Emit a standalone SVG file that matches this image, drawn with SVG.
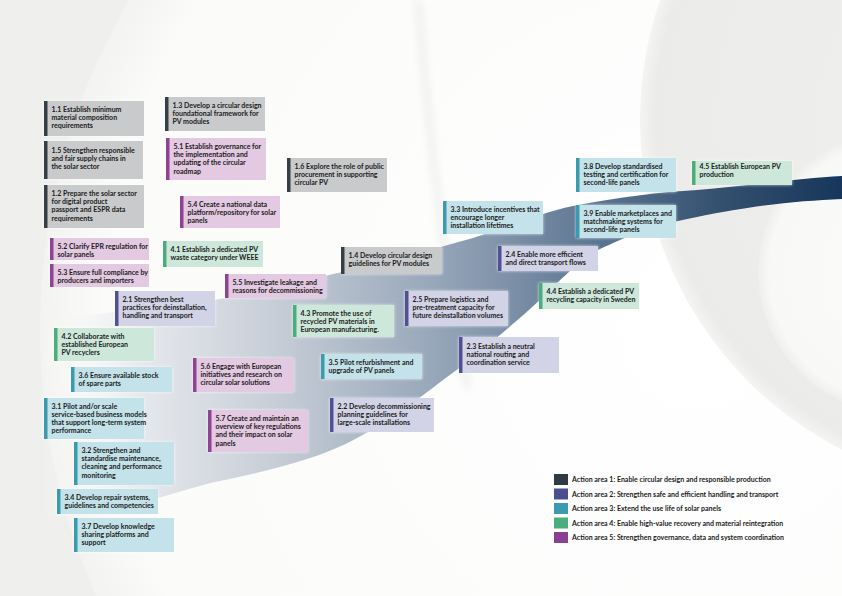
<svg xmlns="http://www.w3.org/2000/svg" width="842" height="596" viewBox="0 0 842 596">
<defs>
<style>
.box{filter:url(#glow)}
.a1 .box{fill:#c9cacc}.a1 .bar{fill:#363f45}
.a2 .box{fill:#d2d3e6}.a2 .bar{fill:#4f5193}
.a3 .box{fill:#c4e2e9}.a3 .bar{fill:#3a9aae}
.a4 .box{fill:#cde8da}.a4 .bar{fill:#4bad7c}
.a5 .box{fill:#e3c9e1}.a5 .bar{fill:#8e4393}
text{font-family:Lato,"Liberation Sans",sans-serif;font-size:7px;font-weight:700;fill:#1b1b1b}
</style>
<filter id="glow" x="-10%" y="-25%" width="120%" height="150%">
<feGaussianBlur in="SourceAlpha" stdDeviation="1.6" result="b"/>
<feFlood flood-color="#ffffff" flood-opacity="0.75"/>
<feComposite in2="b" operator="in"/>
<feMerge><feMergeNode/><feMergeNode in="SourceGraphic"/></feMerge>
</filter>
<filter id="soft" x="-50%" y="-10%" width="200%" height="120%">
<feGaussianBlur stdDeviation="4"/>
</filter>
<radialGradient id="bigW" cx="700" cy="330" r="660" gradientUnits="userSpaceOnUse">
<stop offset="0" stop-color="#ffffff"/><stop offset="0.9" stop-color="#fbfbfa"/><stop offset="1" stop-color="#f3f3f1"/>
</radialGradient>
<radialGradient id="ring" cx="1010" cy="120" r="370" gradientUnits="userSpaceOnUse">
<stop offset="0.5" stop-color="#eeeeec"/><stop offset="0.96" stop-color="#ebebe9"/><stop offset="1" stop-color="#f4f4f2"/>
</radialGradient>
<radialGradient id="inner" cx="900" cy="272" r="142" gradientUnits="userSpaceOnUse">
<stop offset="0" stop-color="#fbfbfa"/><stop offset="0.92" stop-color="#f8f8f7"/><stop offset="1" stop-color="#efefed"/>
</radialGradient>
<linearGradient id="rib" x1="40" y1="0" x2="842" y2="0" gradientUnits="userSpaceOnUse">
<stop offset="0" stop-color="#ffffff" stop-opacity="0"/>
<stop offset="0.12" stop-color="#e2e5e9" stop-opacity="0.85"/>
<stop offset="0.3" stop-color="#c5ccd6"/>
<stop offset="0.5" stop-color="#95a5b8"/>
<stop offset="0.7" stop-color="#5b7491"/>
<stop offset="0.85" stop-color="#34506f"/>
<stop offset="1" stop-color="#16365b"/>
</linearGradient>
</defs>
<g id="background">
<rect x="0" y="0" width="842" height="596" fill="#efefed"/>
<circle cx="700" cy="330" r="660" fill="url(#bigW)"/>
<path d="M418,0 C428,120 442,260 468,390" fill="none" stroke="#e2e2e0" stroke-width="5" opacity="0.7" filter="url(#soft)"/>
<circle cx="1010" cy="120" r="370" fill="url(#ring)"/>
<circle cx="900" cy="272" r="142" fill="url(#inner)"/>
<path d="M40,322 C120,310 180,305 227,298 C270,290 300,282 342,272 C390,262 430,250 473,238 C510,226 540,213 573,206 C620,197 660,192 697,190 C750,186 800,178 842,176 L842,199 C800,201 760,204 697,217 C670,222 650,228 640,232 C615,242 600,248 590,255 C570,270 560,280 550,290 C530,310 515,322 500,335 C480,352 460,368 443,380 C420,398 400,412 380,425 C355,440 335,450 310,458 C280,468 245,476 215,482 C190,488 170,495 150,500 C120,507 100,510 90,512 C60,516 45,518 40,518 C30,460 30,380 40,322 Z" fill="url(#rib)"/>
</g>
<g id="connectors"/>
<g id="nodes">
<g id="n1-1" class="a1"><rect class="box" x="44" y="101" width="100" height="35"/><rect class="bar" x="44" y="101" width="3.5" height="35"/><text x="51.5" y="112"><tspan x="51.5">1.1 Establish minimum</tspan><tspan x="51.5" dy="8.2">material composition</tspan><tspan x="51.5" dy="8.2">requirements</tspan></text></g>
<g id="n1-3" class="a1"><rect class="box" x="165" y="97" width="100" height="34"/><rect class="bar" x="165" y="97" width="3.5" height="34"/><text x="172.5" y="108"><tspan x="172.5">1.3 Develop a circular design</tspan><tspan x="172.5" dy="8.2">foundational framework for</tspan><tspan x="172.5" dy="8.2">PV modules</tspan></text></g>
<g id="n1-5" class="a1"><rect class="box" x="44" y="141" width="99" height="38"/><rect class="bar" x="44" y="141" width="3.5" height="38"/><text x="51.5" y="153"><tspan x="51.5">1.5 Strengthen responsible</tspan><tspan x="51.5" dy="8.2">and fair supply chains in</tspan><tspan x="51.5" dy="8.2">the solar sector</tspan></text></g>
<g id="n5-1" class="a5"><rect class="box" x="166" y="138" width="100" height="42"/><rect class="bar" x="166" y="138" width="3.5" height="42"/><text x="173.5" y="149"><tspan x="173.5">5.1 Establish governance for</tspan><tspan x="173.5" dy="8.2">the implementation and</tspan><tspan x="173.5" dy="8.2">updating of the circular</tspan><tspan x="173.5" dy="8.2">roadmap</tspan></text></g>
<g id="n1-6" class="a1"><rect class="box" x="287" y="158" width="100" height="34"/><rect class="bar" x="287" y="158" width="3.5" height="34"/><text x="294.5" y="169"><tspan x="294.5">1.6 Explore the role of public</tspan><tspan x="294.5" dy="8.2">procurement in supporting</tspan><tspan x="294.5" dy="8.2">circular PV</tspan></text></g>
<g id="n1-2" class="a1"><rect class="box" x="44" y="185" width="100" height="43"/><rect class="bar" x="44" y="185" width="3.5" height="43"/><text x="51.5" y="196"><tspan x="51.5">1.2 Prepare the solar sector</tspan><tspan x="51.5" dy="8.2">for digital product</tspan><tspan x="51.5" dy="8.2">passport and ESPR data</tspan><tspan x="51.5" dy="8.2">requirements</tspan></text></g>
<g id="n5-4" class="a5"><rect class="box" x="180" y="196" width="100" height="32"/><rect class="bar" x="180" y="196" width="3.5" height="32"/><text x="187.5" y="207"><tspan x="187.5">5.4 Create a national data</tspan><tspan x="187.5" dy="8.2">platform/repository for solar</tspan><tspan x="187.5" dy="8.2">panels</tspan></text></g>
<g id="n3-3" class="a3"><rect class="box" x="443" y="201" width="100" height="33"/><rect class="bar" x="443" y="201" width="3.5" height="33"/><text x="450.5" y="212"><tspan x="450.5">3.3 Introduce incentives that</tspan><tspan x="450.5" dy="8.2">encourage longer</tspan><tspan x="450.5" dy="8.2">installation lifetimes</tspan></text></g>
<g id="n3-8" class="a3"><rect class="box" x="576" y="158" width="100" height="34"/><rect class="bar" x="576" y="158" width="3.5" height="34"/><text x="583.5" y="169"><tspan x="583.5">3.8 Develop standardised</tspan><tspan x="583.5" dy="8.2">testing and certification for</tspan><tspan x="583.5" dy="8.2">second-life panels</tspan></text></g>
<g id="n4-5" class="a4"><rect class="box" x="692" y="161" width="100" height="24"/><rect class="bar" x="692" y="161" width="3.5" height="24"/><text x="699.5" y="169"><tspan x="699.5">4.5 Establish European PV</tspan><tspan x="699.5" dy="8.2">production</tspan></text></g>
<g id="n3-9" class="a3"><rect class="box" x="576" y="205" width="100" height="33"/><rect class="bar" x="576" y="205" width="3.5" height="33"/><text x="583.5" y="216"><tspan x="583.5">3.9 Enable marketplaces and</tspan><tspan x="583.5" dy="8.2">matchmaking systems for</tspan><tspan x="583.5" dy="8.2">second-life panels</tspan></text></g>
<g id="n5-2" class="a5"><rect class="box" x="50" y="238" width="99" height="22"/><rect class="bar" x="50" y="238" width="3.5" height="22"/><text x="57.5" y="248.5"><tspan x="57.5">5.2 Clarify EPR regulation for</tspan><tspan x="57.5" dy="8.2">solar panels</tspan></text></g>
<g id="n4-1" class="a4"><rect class="box" x="163" y="241" width="100" height="26"/><rect class="bar" x="163" y="241" width="3.5" height="26"/><text x="170.5" y="251.5"><tspan x="170.5">4.1  Establish a dedicated PV</tspan><tspan x="170.5" dy="8.2">waste category under WEEE</tspan></text></g>
<g id="n1-4" class="a1"><rect class="box" x="341" y="247" width="101" height="27"/><rect class="bar" x="341" y="247" width="3.5" height="27"/><text x="348.5" y="257.5"><tspan x="348.5">1.4 Develop circular design</tspan><tspan x="348.5" dy="8.2">guidelines for PV modules</tspan></text></g>
<g id="n2-4" class="a2"><rect class="box" x="498" y="246" width="100" height="25"/><rect class="bar" x="498" y="246" width="3.5" height="25"/><text x="505.5" y="256.5"><tspan x="505.5">2.4 Enable more efficient</tspan><tspan x="505.5" dy="8.2">and direct transport flows</tspan></text></g>
<g id="n5-3" class="a5"><rect class="box" x="50" y="264" width="99" height="23"/><rect class="bar" x="50" y="264" width="3.5" height="23"/><text x="57.5" y="274.5"><tspan x="57.5">5.3 Ensure full compliance by</tspan><tspan x="57.5" dy="8.2">producers and importers</tspan></text></g>
<g id="n5-5" class="a5"><rect class="box" x="225" y="274" width="101" height="24"/><rect class="bar" x="225" y="274" width="3.5" height="24"/><text x="232.5" y="284.5"><tspan x="232.5">5.5 Investigate leakage and</tspan><tspan x="232.5" dy="8.2">reasons for decommissioning</tspan></text></g>
<g id="n2-1" class="a2"><rect class="box" x="115" y="291" width="100" height="35"/><rect class="bar" x="115" y="291" width="3.5" height="35"/><text x="122.5" y="302"><tspan x="122.5">2.1 Strengthen best</tspan><tspan x="122.5" dy="8.2">practices for deinstallation,</tspan><tspan x="122.5" dy="8.2">handling and transport</tspan></text></g>
<g id="n4-4" class="a4"><rect class="box" x="539" y="283" width="100" height="26"/><rect class="bar" x="539" y="283" width="3.5" height="26"/><text x="546.5" y="293.5"><tspan x="546.5">4.4 Establish a dedicated PV</tspan><tspan x="546.5" dy="8.2">recycling capacity in Sweden</tspan></text></g>
<g id="n2-5" class="a2"><rect class="box" x="405" y="291" width="103" height="35"/><rect class="bar" x="405" y="291" width="3.5" height="35"/><text x="412.5" y="302"><tspan x="412.5">2.5 Prepare logistics and</tspan><tspan x="412.5" dy="8.2">pre-treatment capacity for</tspan><tspan x="412.5" dy="8.2">future deinstallation volumes</tspan></text></g>
<g id="n4-3" class="a4"><rect class="box" x="293" y="305" width="101" height="32"/><rect class="bar" x="293" y="305" width="3.5" height="32"/><text x="300.5" y="315.5"><tspan x="300.5">4.3 Promote the use of</tspan><tspan x="300.5" dy="8.2">recycled PV materials in</tspan><tspan x="300.5" dy="8.2">European manufacturing.</tspan></text></g>
<g id="n4-2" class="a4"><rect class="box" x="54" y="328" width="100" height="33"/><rect class="bar" x="54" y="328" width="3.5" height="33"/><text x="61.5" y="338.5"><tspan x="61.5">4.2 Collaborate with</tspan><tspan x="61.5" dy="8.2">established European</tspan><tspan x="61.5" dy="8.2">PV recyclers</tspan></text></g>
<g id="n2-3" class="a2"><rect class="box" x="459" y="337" width="100" height="36"/><rect class="bar" x="459" y="337" width="3.5" height="36"/><text x="466.5" y="349"><tspan x="466.5">2.3 Establish a neutral</tspan><tspan x="466.5" dy="8.2">national routing and</tspan><tspan x="466.5" dy="8.2">coordination service</tspan></text></g>
<g id="n5-6" class="a5"><rect class="box" x="193" y="358" width="101" height="34"/><rect class="bar" x="193" y="358" width="3.5" height="34"/><text x="200.5" y="369"><tspan x="200.5">5.6 Engage with European</tspan><tspan x="200.5" dy="8.2">initiatives and research on</tspan><tspan x="200.5" dy="8.2">circular solar solutions</tspan></text></g>
<g id="n3-5" class="a3"><rect class="box" x="321" y="354" width="101" height="25"/><rect class="bar" x="321" y="354" width="3.5" height="25"/><text x="328.5" y="364.5"><tspan x="328.5">3.5 Pilot refurbishment and</tspan><tspan x="328.5" dy="8.2">upgrade of PV panels</tspan></text></g>
<g id="n3-6" class="a3"><rect class="box" x="71" y="367" width="101" height="25"/><rect class="bar" x="71" y="367" width="3.5" height="25"/><text x="78.5" y="377.5"><tspan x="78.5">3.6 Ensure available stock</tspan><tspan x="78.5" dy="8.2">of spare parts</tspan></text></g>
<g id="n3-1" class="a3"><rect class="box" x="44" y="398" width="100" height="41"/><rect class="bar" x="44" y="398" width="3.5" height="41"/><text x="51.5" y="408.5"><tspan x="51.5">3.1 Pilot and/or scale</tspan><tspan x="51.5" dy="8.2">service-based business models</tspan><tspan x="51.5" dy="8.2">that support long-term system</tspan><tspan x="51.5" dy="8.2">performance</tspan></text></g>
<g id="n2-2" class="a2"><rect class="box" x="330" y="398" width="104" height="34"/><rect class="bar" x="330" y="398" width="3.5" height="34"/><text x="337.5" y="409"><tspan x="337.5">2.2 Develop decommissioning</tspan><tspan x="337.5" dy="8.2">planning guidelines for</tspan><tspan x="337.5" dy="8.2">large-scale installations</tspan></text></g>
<g id="n5-7" class="a5"><rect class="box" x="208" y="410" width="100" height="42"/><rect class="bar" x="208" y="410" width="3.5" height="42"/><text x="215.5" y="421"><tspan x="215.5">5.7 Create and maintain an</tspan><tspan x="215.5" dy="8.2">overview of key regulations</tspan><tspan x="215.5" dy="8.2">and their impact on solar</tspan><tspan x="215.5" dy="8.2">panels</tspan></text></g>
<g id="n3-2" class="a3"><rect class="box" x="74" y="442" width="100" height="43"/><rect class="bar" x="74" y="442" width="3.5" height="43"/><text x="81.5" y="453"><tspan x="81.5">3.2 Strengthen and</tspan><tspan x="81.5" dy="8.2">standardise maintenance,</tspan><tspan x="81.5" dy="8.2">cleaning and performance</tspan><tspan x="81.5" dy="8.2">monitoring</tspan></text></g>
<g id="n3-4" class="a3"><rect class="box" x="57" y="489" width="101" height="25"/><rect class="bar" x="57" y="489" width="3.5" height="25"/><text x="64.5" y="499.5"><tspan x="64.5">3.4 Develop repair systems,</tspan><tspan x="64.5" dy="8.2">guidelines and competencies</tspan></text></g>
<g id="n3-7" class="a3"><rect class="box" x="74" y="518" width="100" height="34"/><rect class="bar" x="74" y="518" width="3.5" height="34"/><text x="81.5" y="529"><tspan x="81.5">3.7 Develop knowledge</tspan><tspan x="81.5" dy="8.2">sharing platforms and</tspan><tspan x="81.5" dy="8.2">support</tspan></text></g>
</g>
<g id="legend">
<rect x="554" y="474" width="14" height="11" fill="#2e3b42"/><text x="572" y="482">Action area 1: Enable circular design and responsible production</text>
<rect x="554" y="488.5" width="14" height="11" fill="#4c4f8f"/><text x="572" y="496.5">Action area 2: Strengthen safe and efficient handling and transport</text>
<rect x="554" y="503" width="14" height="11" fill="#3a9bb0"/><text x="572" y="511">Action area 3: Extend the use life of solar panels</text>
<rect x="554" y="517.5" width="14" height="11" fill="#4bae7e"/><text x="572" y="525.5">Action area 4: Enable high-value recovery and material reintegration</text>
<rect x="554" y="532" width="14" height="11" fill="#8b3f92"/><text x="572" y="540">Action area 5: Strengthen governance, data and system coordination</text>
</g>
</svg>
